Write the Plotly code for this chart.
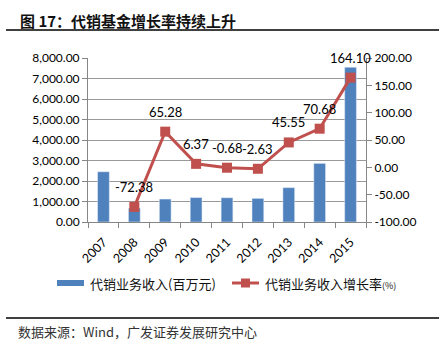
import plotly.graph_objects as go

years = ["2007", "2008", "2009", "2010", "2011", "2012", "2013", "2014", "2015"]
income = [2450, 677, 1119, 1190, 1182, 1151, 1675, 2859, 7550]
growth = [None, -72.38, 65.28, 6.37, -0.68, -2.63, 45.55, 70.68, 164.10]

left_ticks = [0, 1000, 2000, 3000, 4000, 5000, 6000, 7000, 8000]
left_text = ["0.00", "1,000.00", "2,000.00", "3,000.00", "4,000.00",
             "5,000.00", "6,000.00", "7,000.00", "8,000.00"]
right_ticks = [-100, -50, 0, 50, 100, 150, 200]
right_text = ["-100.00", "-50.00", "0.00", "50.00", "100.00", "150.00", "200.00"]

title_text = "图 17：代销基金增长率持续上升"
source_text = "数据来源：Wind，广发证券发展研究中心"
bar_name = "代销业务收入(百万元)"
line_name = "代销业务收入增长率<span style='font-size:9px'>(%)</span>"

BLUE = "#4F81BD"
RED = "#C0504D"
FONT = "Lato, 'Noto Sans CJK SC', sans-serif"
CJK = "'Noto Sans CJK SC', sans-serif"

W, H = 439, 344
ML, MR, MT, MB = 88, 73, 58, 122
PW, PH = W - ML - MR, H - MT - MB


def px(x):
    """Pixel column -> paper x."""
    return (x - ML) / PW


def py(y):
    """Pixel row (from top) -> paper y."""
    return (H - MB - y) / PH


idx = list(range(len(years)))
bounds = [i - 0.5 for i in range(len(years) + 1)]

fig = go.Figure()
fig.add_trace(go.Bar(x=idx, y=income, marker_color=BLUE, width=0.38,
                     showlegend=False, yaxis="y"))
fig.add_trace(go.Scatter(x=idx, y=growth, mode="lines+markers", yaxis="y2",
                         line=dict(color=RED, width=3),
                         marker=dict(symbol="square", size=10, color=RED),
                         showlegend=False))

annotations = []
for i, g in zip(idx, growth):
    if g is None:
        continue
    annotations.append(dict(x=i, y=g, xref="x", yref="y2", text=f"{g:.2f}",
                            showarrow=False, yshift=20,
                            font=dict(family=FONT, size=13, color="#000")))

annotations += [
    dict(x=px(18), y=py(20), xref="paper", yref="paper", text=f"<b>{title_text}</b>",
         showarrow=False, xanchor="left", yanchor="middle",
         font=dict(family=CJK, size=15, color="#111")),
    dict(x=px(16), y=py(331), xref="paper", yref="paper", text=source_text,
         showarrow=False, xanchor="left", yanchor="middle",
         font=dict(family=CJK, size=13, color="#333")),
    dict(x=px(88), y=py(283), xref="paper", yref="paper", text=bar_name,
         showarrow=False, xanchor="left", yanchor="middle",
         font=dict(family=CJK, size=13, color="#111")),
    dict(x=px(263), y=py(283), xref="paper", yref="paper", text=line_name,
         showarrow=False, xanchor="left", yanchor="middle",
         font=dict(family=CJK, size=13, color="#111")),
]

shapes = [
    dict(type="line", xref="paper", yref="paper", x0=px(6), x1=px(439),
         y0=py(30), y1=py(30), line=dict(color="#000", width=1.5)),
    dict(type="line", xref="paper", yref="paper", x0=px(6), x1=px(439),
         y0=py(318), y1=py(318), line=dict(color="#000", width=1.5)),
    dict(type="rect", xref="paper", yref="paper", x0=px(57), x1=px(84),
         y0=py(286), y1=py(280), fillcolor=BLUE, line=dict(width=0)),
    dict(type="line", xref="paper", yref="paper", x0=px(232), x1=px(259),
         y0=py(283), y1=py(283), line=dict(color=RED, width=3)),
    dict(type="rect", xref="paper", yref="paper", x0=px(241), x1=px(250),
         y0=py(287.5), y1=py(278.5), fillcolor=RED, line=dict(width=0)),
]

axis_gray = "#868686"
fig.update_layout(
    width=W, height=H,
    margin=dict(l=ML, r=MR, t=MT, b=MB),
    paper_bgcolor="white", plot_bgcolor="white",
    font=dict(family=FONT, size=12, color="#000"),
    xaxis=dict(range=[-0.5, len(years) - 0.5], tickvals=idx, ticktext=years,
               tickangle=-45, ticks="", showline=True, linecolor=axis_gray,
               linewidth=1, showgrid=False, zeroline=False,
               tickfont=dict(size=12.5), ticklabelstandoff=7,
               minor=dict(tickvals=bounds, ticks="outside", ticklen=5,
                          tickcolor=axis_gray, showgrid=False)),
    yaxis=dict(range=[0, 8000], tickvals=left_ticks, ticktext=left_text,
               showline=True, linecolor=axis_gray, ticks="outside", ticklen=5,
               tickcolor=axis_gray, gridcolor="#999999", gridwidth=1,
               zeroline=False, tickfont=dict(size=12)),
    yaxis2=dict(range=[-100, 200], tickvals=right_ticks, ticktext=right_text,
                overlaying="y", side="right", showline=True, linecolor=axis_gray,
                ticks="outside", ticklen=5, tickcolor=axis_gray, showgrid=False,
                zeroline=False, tickfont=dict(size=12)),
    annotations=annotations,
    shapes=shapes,
    showlegend=False,
)

fig.write_html("out.html")
